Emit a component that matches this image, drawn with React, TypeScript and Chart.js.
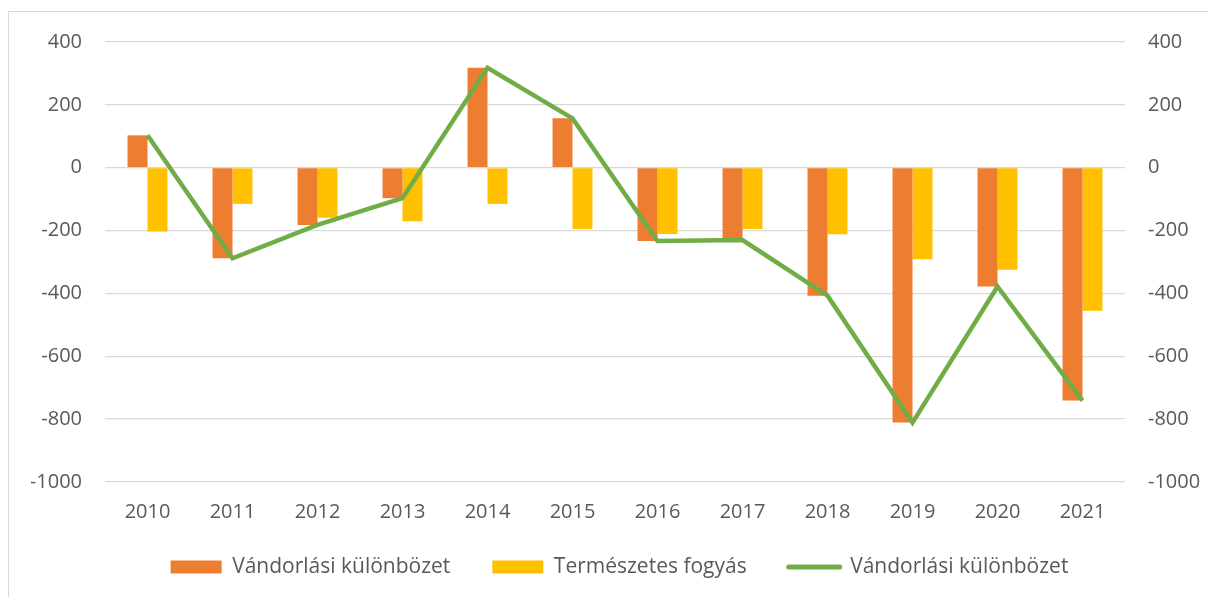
import React, { useEffect, useRef } from "react";
import { Chart, registerables } from "chart.js";

Chart.register(...registerables);

const years = ["2010", "2011", "2012", "2013", "2014", "2015", "2016", "2017", "2018", "2019", "2020", "2021"];
const migration = [103, -288, -182, -97, 318, 157, -233, -228, -407, -811, -378, -741];
const naturalDecrease = [-203, -115, -159, -170, -115, -195, -211, -195, -212, -291, -325, -455];
const migrationLine = [103, -288, -182, -97, 318, 157, -233, -230, -407, -811, -378, -741];
const seriesNames = ["Vándorlási különbözet", "Természetes fogyás", "Vándorlási különbözet"];

const FONT = "'Open Sans', sans-serif";
const TEXT = "#595959";
const LEGEND_PAD = 42;

const legendPlacement = {
  id: "legendPlacement",
  beforeInit(chart: any) {
    const lg = chart.legend;
    if (!lg) return;
    const fit = lg.fit;
    lg.fit = function () {
      fit.call(lg);
      lg.height = 69;
    };
  },
  afterLayout(chart: any) {
    const lg = chart.legend;
    if (!lg) return;
    lg.top = 502.5;
    lg.bottom = lg.top + lg.height;
  },
};

export default function App() {
  const ref = useRef<HTMLCanvasElement | null>(null);

  useEffect(() => {
    if (!ref.current) return;
    const chart = new Chart(ref.current, {
      type: "bar",
      plugins: [legendPlacement],
      data: {
        labels: years,
        datasets: [
          {
            type: "bar",
            label: seriesNames[0],
            data: migration,
            backgroundColor: "#ED7D31",
            borderWidth: 0,
            categoryPercentage: 0.47,
            barPercentage: 1,
            yAxisID: "y",
            order: 1,
          },
          {
            type: "bar",
            label: seriesNames[1],
            data: naturalDecrease,
            backgroundColor: "#FFC000",
            borderWidth: 0,
            categoryPercentage: 0.47,
            barPercentage: 1,
            yAxisID: "y",
            order: 1,
          },
          {
            type: "line",
            label: seriesNames[2],
            data: migrationLine,
            borderColor: "#70AD47",
            backgroundColor: "#70AD47",
            borderWidth: 4.5,
            pointRadius: 0,
            tension: 0,
            yAxisID: "y1",
            order: 0,
          },
        ],
      },
      options: {
        animation: false,
        responsive: false,
        maintainAspectRatio: false,
        layout: { padding: { top: 30, left: 22, right: 0, bottom: 0 } },
        plugins: {
          tooltip: { enabled: false },
          legend: {
            position: "bottom",
            labels: {
              usePointStyle: true,
              pointStyleWidth: 51,
              boxHeight: 13,
              padding: LEGEND_PAD,
              color: TEXT,
              font: { family: FONT, size: 21 },
              sort: (a: any, b: any) => a.datasetIndex - b.datasetIndex,
              generateLabels: (chart: any) => {
                const items = Chart.defaults.plugins.legend.labels.generateLabels(chart);
                return items.map((it: any) => {
                  if (it.datasetIndex === 2) {
                    return { ...it, pointStyle: "line", lineWidth: 5, strokeStyle: "#70AD47", lineCap: "round" };
                  }
                  return { ...it, pointStyle: "rect", lineWidth: 0 };
                });
              },
            },
          },
        },
        scales: {
          x: {
            offset: true,
            grid: { display: false },
            border: { display: false },
            ticks: { color: TEXT, font: { family: FONT, size: 20 }, padding: 10 },
            afterFit: (s: any) => { s.height = 46; s.paddingLeft = 0; s.paddingRight = 0; },
          },
          y: {
            position: "left",
            min: -1000,
            max: 400,
            ticks: {
              stepSize: 200,
              color: TEXT,
              font: { family: FONT, size: 20 },
              padding: 23,
              callback: (v: any) => String(v),
            },
            grid: { color: "#d9d9d9", lineWidth: 1.3, drawTicks: false },
            border: { display: false },
            afterFit: (s: any) => { s.width = 74; s.paddingTop = 0; s.paddingBottom = 0; },
          },
          y1: {
            position: "right",
            min: -1000,
            max: 400,
            ticks: {
              stepSize: 200,
              color: TEXT,
              font: { family: FONT, size: 20 },
              padding: 23,
              callback: (v: any) => String(v),
            },
            grid: { display: false, drawTicks: false },
            border: { display: false },
            afterFit: (s: any) => { s.width = 83; s.paddingTop = 0; s.paddingBottom = 0; },
          },
        },
      },
    });
    return () => chart.destroy();
  }, []);

  return (
    <div
      style={{
        position: "fixed",
        left: 8,
        top: 11,
        width: 1220,
        height: 600,
        border: "1px solid #d9d9d9",
        background: "#fff",
      }}
    >
      <canvas ref={ref} width={1199} height={585} style={{ display: "block" }} />
    </div>
  );
}
